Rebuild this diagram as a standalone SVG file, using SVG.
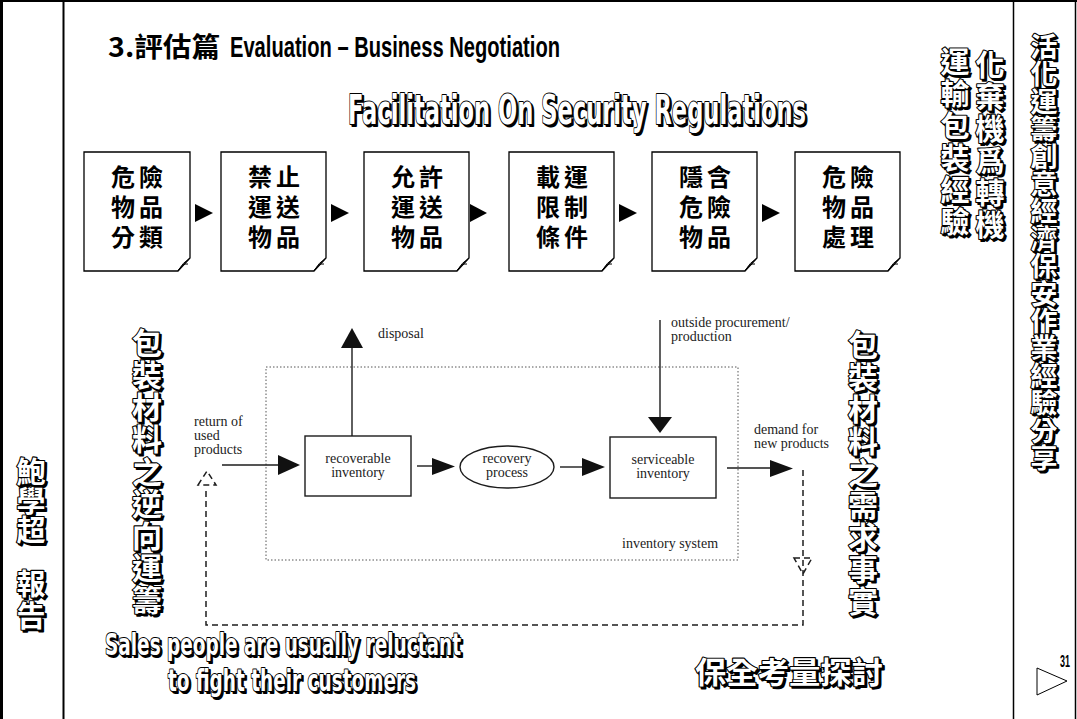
<svg xmlns="http://www.w3.org/2000/svg" xmlns:xlink="http://www.w3.org/1999/xlink" width="1077" height="719" viewBox="0 0 1077 719">
  <style>
    .frame { fill: none; stroke: #000; }
    .cjk { font-family: "Noto Sans CJK TC", "Noto Sans CJK SC", sans-serif; font-weight: 700; }
    .lat { font-family: "Liberation Sans", "Arial", sans-serif; font-weight: 700; }
    .heavy { font-family: "DejaVu Sans", "Liberation Sans", sans-serif; font-weight: 700; }
    .shadow { fill: #000; stroke: #000; stroke-width: 2; stroke-linejoin: round; }
    .face { fill: #fff; stroke: #000; stroke-width: 2.2; stroke-linejoin: round; paint-order: stroke; }
    .box { fill: #fff; stroke: #000; stroke-width: 1.3; }
    .curl { fill: none; stroke: #000; stroke-width: 1; }
    .boxtxt { font-family: "Noto Sans CJK TC", "Noto Sans CJK SC", sans-serif; font-weight: 700; font-size: 24px; fill: #000; text-anchor: middle; }
    .step { fill: #000; }
    .scan { font-family: "Liberation Serif", "Times New Roman", serif; font-size: 14px; fill: #1c1c1c; }
    .mid { text-anchor: middle; }
    .ln { fill: none; stroke: #1c1c1c; stroke-width: 1.4; }
    .head { fill: #111; }
    .dash { fill: none; stroke: #1c1c1c; stroke-width: 1.5; stroke-dasharray: 6 4; }
    .dot { fill: none; stroke: #555; stroke-width: 1; stroke-dasharray: 1.5 2; }
  </style>
  <defs>
    <text id="t-head" class="heavy" x="348" y="124" font-size="40" textLength="458" lengthAdjust="spacingAndGlyphs">Facilitation On Security Regulations</text>
    <text id="t-sales1" class="heavy" x="105" y="655" font-size="30" textLength="356" lengthAdjust="spacingAndGlyphs">Sales people are usually reluctant</text>
    <text id="t-sales2" class="heavy" x="168" y="691" font-size="30" textLength="248" lengthAdjust="spacingAndGlyphs">to fight their customers</text>
    <text id="t-guard" class="cjk" x="695" y="683" font-size="30" textLength="188" lengthAdjust="spacingAndGlyphs">保全考量探討</text>
    <text id="t-side" class="cjk" font-size="27" text-anchor="middle"
      x="1044 1044 1044 1044 1044 1044 1044 1044 1044 1044 1044 1044 1044 1044 1044 1044"
      y="57 84.4 111.8 139.2 166.6 194 221.4 248.8 276.2 303.6 331 358.4 385.8 413.2 440.6 468">活化運籌創意經濟保安作業經驗分享</text>
    <text id="t-turn" class="cjk" font-size="29" text-anchor="middle"
      x="990 990 990 990 990 990" y="76 108 140 172 204 236">化棄機爲轉機</text>
    <text id="t-pack" class="cjk" font-size="29" text-anchor="middle"
      x="955 955 955 955 955 955" y="73 105 137 169 201 233">運輸包裝經驗</text>
    <text id="t-rev" class="cjk" font-size="30" text-anchor="middle"
      x="147 147 147 147 147 147 147 147 147" y="354 386 418 450 483 515 547 579 611">包裝材料之逆向運籌</text>
    <text id="t-dem" class="cjk" font-size="30" text-anchor="middle"
      x="863 863 863 863 863 863 863 863 863" y="356 388 420 452 484 516 548 580 612">包裝材料之需求事實</text>
    <text id="t-author" class="cjk" font-size="29" text-anchor="middle"
      x="31 31 31 31 31" y="483 512 541 595 627">鮑學超報告</text>
  </defs>

  <!-- page frame -->
  <g id="frame">
    <rect x="0" y="0" width="1077" height="719" fill="#fff"/>
    <line class="frame" x1="1.5" y1="0" x2="1.5" y2="719" stroke-width="3"/>
    <line class="frame" x1="0" y1="1" x2="1077" y2="1" stroke-width="2"/>
    <line class="frame" x1="63.5" y1="0" x2="63.5" y2="719" stroke-width="2"/>
    <line class="frame" x1="1013.5" y1="0" x2="1013.5" y2="719" stroke-width="1.5"/>
    <line class="frame" x1="1075.5" y1="0" x2="1075.5" y2="719" stroke-width="1.5"/>
  </g>

  <!-- title -->
  <g id="title" fill="#000">
    <text x="108" y="57" font-size="27" class="cjk" textLength="112" lengthAdjust="spacingAndGlyphs">3.評估篇</text>
    <text x="230" y="57" font-size="29" class="lat" textLength="330" lengthAdjust="spacingAndGlyphs">Evaluation – Business  Negotiation</text>
  </g>

  <!-- outlined captions -->
  <g id="heading"><use xlink:href="#t-head" class="shadow" transform="translate(2,2)"/><use xlink:href="#t-head" class="face"/></g>
  <g id="side-column"><use xlink:href="#t-side" class="shadow" transform="translate(2,2)"/><use xlink:href="#t-side" class="face"/></g>
  <g id="turn-column"><use xlink:href="#t-turn" class="shadow" transform="translate(2,2)"/><use xlink:href="#t-turn" class="face"/></g>
  <g id="pack-column"><use xlink:href="#t-pack" class="shadow" transform="translate(2,2)"/><use xlink:href="#t-pack" class="face"/></g>
  <g id="reverse-column"><use xlink:href="#t-rev" class="shadow" transform="translate(2,2)"/><use xlink:href="#t-rev" class="face"/></g>
  <g id="demand-column"><use xlink:href="#t-dem" class="shadow" transform="translate(2,2)"/><use xlink:href="#t-dem" class="face"/></g>
  <g id="author"><use xlink:href="#t-author" class="shadow" transform="translate(2,2)"/><use xlink:href="#t-author" class="face"/></g>
  <g id="sales"><use xlink:href="#t-sales1" class="shadow" transform="translate(2,2)"/><use xlink:href="#t-sales1" class="face"/><use xlink:href="#t-sales2" class="shadow" transform="translate(2,2)"/><use xlink:href="#t-sales2" class="face"/></g>
  <g id="guard"><use xlink:href="#t-guard" class="shadow" transform="translate(2,2)"/><use xlink:href="#t-guard" class="face"/></g>

  <!-- process steps: each label laid out as a 2x3 grid of characters -->
  <g id="step1">
    <path class="box" d="M84,152 H190 V258 L178,271 H84 Z"/>
    <path class="curl" d="M190,258 Q183,262 178,271 M178,271 Q182,263 188,264"/>
    <text class="boxtxt" x="123 151 123 151 123 151" y="186 186 216 216 246 246">危險物品分類</text>
  </g>
  <g id="step2">
    <path class="box" d="M221,152 H326 V258 L314,271 H221 Z"/>
    <path class="curl" d="M326,258 Q319,262 314,271 M314,271 Q318,263 324,264"/>
    <text class="boxtxt" x="260 288 260 288 260 288" y="186 186 216 216 246 246">禁止運送物品</text>
  </g>
  <g id="step3">
    <path class="box" d="M364,152 H469 V258 L457,271 H364 Z"/>
    <path class="curl" d="M469,258 Q462,262 457,271 M457,271 Q461,263 467,264"/>
    <text class="boxtxt" x="403 431 403 431 403 431" y="186 186 216 216 246 246">允許運送物品</text>
  </g>
  <g id="step4">
    <path class="box" d="M509,152 H614 V258 L602,271 H509 Z"/>
    <path class="curl" d="M614,258 Q607,262 602,271 M602,271 Q606,263 612,264"/>
    <text class="boxtxt" x="548 576 548 576 548 576" y="186 186 216 216 246 246">載運限制條件</text>
  </g>
  <g id="step5">
    <path class="box" d="M652,152 H757 V258 L745,271 H652 Z"/>
    <path class="curl" d="M757,258 Q750,262 745,271 M745,271 Q749,263 755,264"/>
    <text class="boxtxt" x="691 719 691 719 691 719" y="186 186 216 216 246 246">隱含危險物品</text>
  </g>
  <g id="step6">
    <path class="box" d="M795,152 H900 V258 L888,271 H795 Z"/>
    <path class="curl" d="M900,258 Q893,262 888,271 M888,271 Q892,263 898,264"/>
    <text class="boxtxt" x="834 862 834 862 834 862" y="186 186 216 216 246 246">危險物品處理</text>
  </g>
  <g id="step-arrows">
    <polygon class="step" points="195,204 213,213 195,222"/>
    <polygon class="step" points="331,204 349,213 331,222"/>
    <polygon class="step" points="470,204 487,213 470,222"/>
    <polygon class="step" points="619,204 637,213 619,222"/>
    <polygon class="step" points="762,204 780,213 762,222"/>
  </g>

  <!-- inventory system -->
  <g id="inventory-system">
    <rect class="dot" x="266" y="367" width="472" height="193"/>
    <text class="scan" x="622" y="548">inventory system</text>
  </g>
  <g id="recoverable">
    <rect class="ln" x="305" y="436" width="106" height="60" fill="#fff"/>
    <text class="scan mid" x="358" y="463">recoverable<tspan x="358" y="477">inventory</tspan></text>
  </g>
  <g id="recovery">
    <ellipse class="ln" cx="507" cy="467" rx="47" ry="21" fill="#fff"/>
    <text class="scan mid" x="507" y="463">recovery<tspan x="507" y="477">process</tspan></text>
  </g>
  <g id="serviceable">
    <rect class="ln" x="610" y="437" width="106" height="61" fill="#fff"/>
    <text class="scan mid" x="663" y="464">serviceable<tspan x="663" y="478">inventory</tspan></text>
  </g>
  <g id="flow-labels">
    <text class="scan" x="378" y="338">disposal</text>
    <text class="scan" x="671" y="327">outside procurement/<tspan x="671" y="341">production</tspan></text>
    <text class="scan" x="194" y="426">return of<tspan x="194" y="440">used</tspan><tspan x="194" y="454">products</tspan></text>
    <text class="scan" x="754" y="434">demand for<tspan x="754" y="448">new products</tspan></text>
  </g>

  <!-- connectors -->
  <g id="connectors">
    <line class="ln" x1="222" y1="465" x2="280" y2="465"/>
    <polygon class="head" points="278,455 300,465 278,475"/>
    <line class="ln" x1="352" y1="436" x2="352" y2="346"/>
    <polygon class="head" points="341,348 352,328 363,348"/>
    <line class="ln" x1="417" y1="466" x2="434" y2="466"/>
    <polygon class="head" points="432,458 455,466.5 432,475"/>
    <line class="ln" x1="560" y1="467" x2="584" y2="467"/>
    <polygon class="head" points="582,458 605,467 582,476"/>
    <line class="ln" x1="660" y1="320" x2="660" y2="419"/>
    <polygon class="head" points="648,417 672,417 660,433"/>
    <line class="ln" x1="727" y1="468" x2="772" y2="468"/>
    <polygon class="head" points="770,460 793,468.5 770,477"/>
    <polyline class="dash" points="803,470 803,625 206,625 206,490"/>
    <polygon class="dash" points="794,558 812,558 803,574" stroke-dasharray="4 3"/>
    <polygon class="dash" points="198,485 207,471 216,485" stroke-dasharray="4 3"/>
  </g>

  <!-- page number -->
  <g id="page-number">
    <polygon points="1037,668 1067,681 1037,695" fill="#fff" stroke="#000" stroke-width="1"/>
    <text x="1060" y="667" class="lat" font-size="17" textLength="10" lengthAdjust="spacingAndGlyphs" fill="#000">31</text>
  </g>
</svg>
